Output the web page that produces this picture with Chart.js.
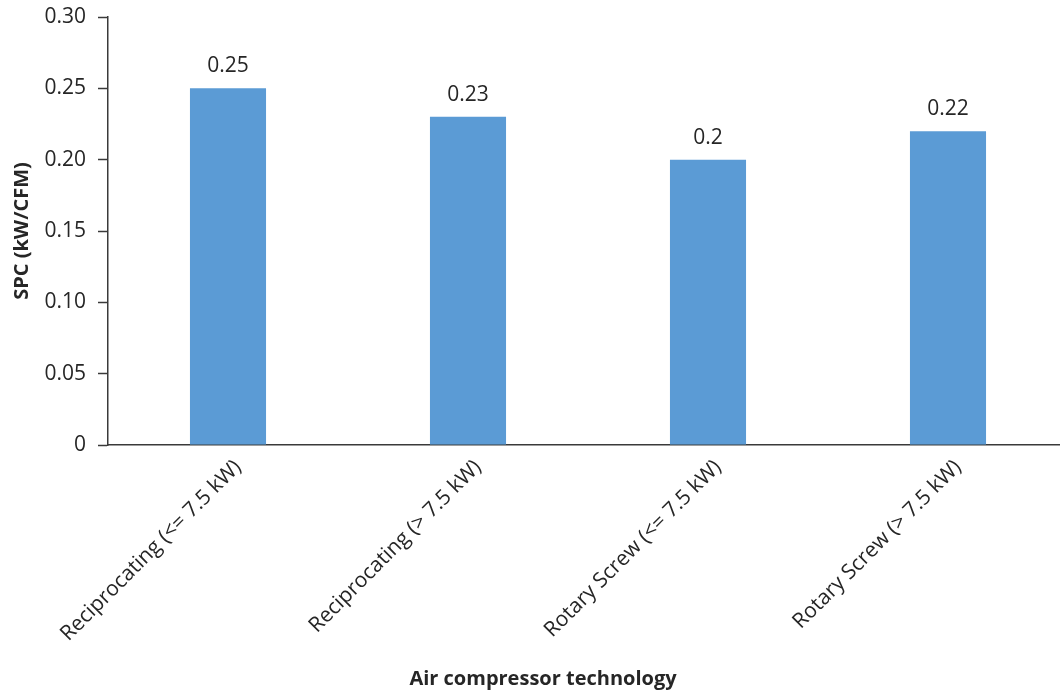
<!DOCTYPE html>
<html>
<head>
<meta charset="utf-8">
<title>SPC by air compressor technology</title>
<script src="https://cdn.jsdelivr.net/npm/chart.js@4.4.1/dist/chart.umd.min.js"></script>
<style>
  html, body { margin: 0; padding: 0; background: #ffffff; overflow: hidden; }
  #wrap { width: 1070px; height: 690px; }
</style>
</head>
<body>
<div id="wrap"><canvas id="chart" width="1070" height="690"></canvas></div>
<script>
// Compressor categories and their specific power consumption (kW per CFM)
const categories = [
  'Reciprocating (<= 7.5 kW)',
  'Reciprocating (> 7.5 kW)',
  'Rotary Screw (<= 7.5 kW)',
  'Rotary Screw (> 7.5 kW)'
];
const spcValues = [0.25, 0.23, 0.2, 0.22];
const yTickValues = [0, 0.05, 0.10, 0.15, 0.20, 0.25, 0.30];

const yTitle = 'SPC (kW/CFM)';
const xTitle = 'Air compressor technology';

const TEXT = '#262626';
const AXIS = '#3a3a3a';
const BAR = '#5b9bd5';
const FONT = '"Open Sans", "DejaVu Sans", sans-serif';

// Value labels above each bar
const valueLabels = {
  id: 'valueLabels',
  afterDatasetsDraw(chart) {
    const ctx = chart.ctx;
    const meta = chart.getDatasetMeta(0);
    ctx.save();
    ctx.font = '21px ' + FONT;
    ctx.fillStyle = TEXT;
    ctx.textAlign = 'center';
    ctx.textBaseline = 'alphabetic';
    meta.data.forEach((bar, i) => {
      ctx.fillText(String(spcValues[i]), bar.x, bar.y - 16);
    });
    ctx.restore();
  }
};

// Axis titles
const axisTitles = {
  id: 'axisTitles',
  afterDraw(chart) {
    const ctx = chart.ctx;
    const area = chart.chartArea;
    ctx.save();
    ctx.font = 'bold 20px ' + FONT;
    ctx.fillStyle = TEXT;
    ctx.textAlign = 'center';
    ctx.textBaseline = 'alphabetic';
    ctx.fillText(xTitle, 543, 685);
    ctx.translate(28, (area.top + area.bottom) / 2);
    ctx.rotate(-Math.PI / 2);
    ctx.fillText(yTitle, 0, 0);
    ctx.restore();
  }
};

new Chart(document.getElementById('chart'), {
  type: 'bar',
  data: {
    labels: categories,
    datasets: [{
      data: spcValues,
      backgroundColor: BAR,
      borderWidth: 0,
      barPercentage: 0.317,
      categoryPercentage: 1.0
    }]
  },
  options: {
    responsive: false,
    animation: false,
    devicePixelRatio: 1,
    layout: { padding: { top: 17, right: 2, left: 0, bottom: 0 } },
    plugins: {
      legend: { display: false },
      tooltip: { enabled: false }
    },
    scales: {
      x: {
        grid: { display: false, drawTicks: false },
        border: { display: true, color: AXIS, width: 1.5 },
        ticks: {
          autoSkip: false,
          minRotation: 45,
          maxRotation: 45,
          padding: 10,
          labelOffset: 10,
          color: TEXT,
          font: { family: FONT, size: 21 }
        },
        afterFit(scale) {
          scale.height = 245;
          scale.paddingLeft = 0;
          scale.paddingRight = 0;
        }
      },
      y: {
        min: 0,
        max: 0.30,
        afterBuildTicks(scale) {
          scale.ticks = yTickValues.map(v => ({ value: v }));
        },
        grid: {
          drawOnChartArea: false,
          drawTicks: true,
          tickLength: 10,
          tickColor: AXIS,
          tickWidth: 1.5
        },
        border: { display: true, color: AXIS, width: 1.5 },
        ticks: {
          padding: 12,
          color: TEXT,
          font: { family: FONT, size: 21 },
          callback(value) {
            return value === 0 ? '0' : Number(value).toFixed(2);
          }
        },
        afterFit(scale) {
          scale.width = 108;
          scale.paddingTop = 0;
          scale.paddingBottom = 0;
        }
      }
    }
  },
  plugins: [valueLabels, axisTitles]
});
</script>
</body>
</html>
